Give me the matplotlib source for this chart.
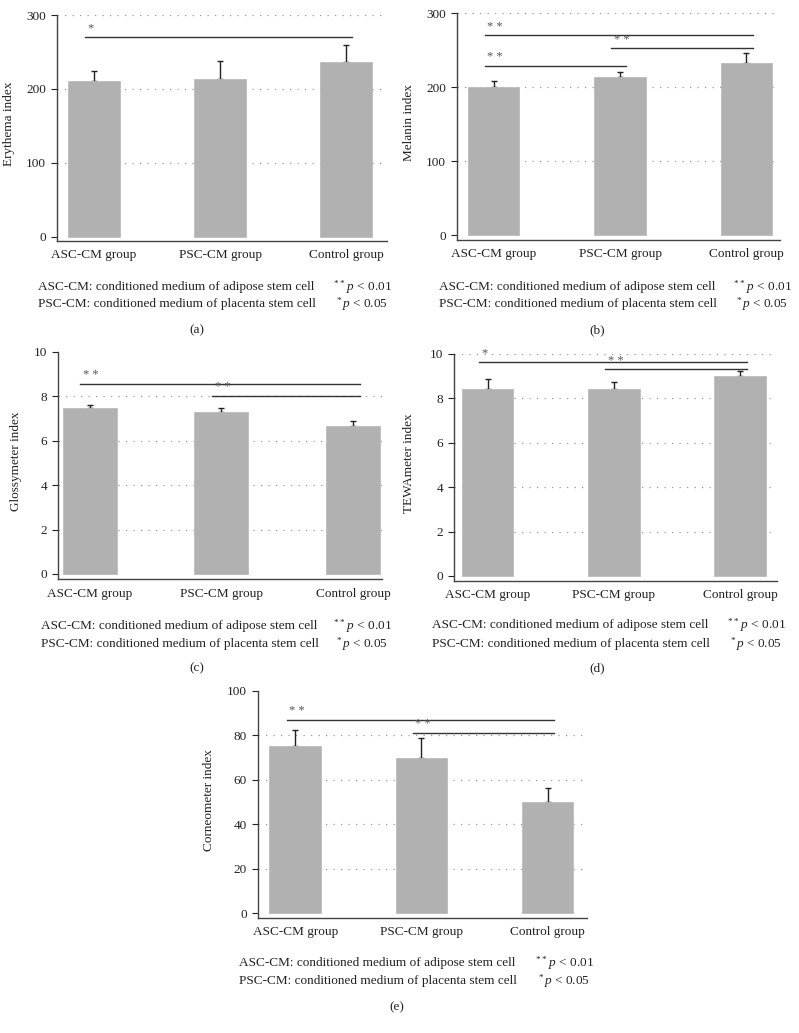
import numpy as np
import matplotlib
matplotlib.use("Agg")
import matplotlib.pyplot as plt

plt.rcParams["font.family"] = ["Liberation Serif", "DejaVu Serif"]
plt.rcParams["mathtext.fontset"] = "custom"
plt.rcParams["mathtext.rm"] = "Liberation Serif"
plt.rcParams["mathtext.it"] = "Liberation Serif:italic"

groups = ["ASC-CM group", "PSC-CM group", "Control group"]

erythema_mean = [211, 213, 237]
erythema_sd = [13, 25, 23]
melanin_mean = [201, 214, 233]
melanin_sd = [7, 6, 13]
gloss_mean = [7.47, 7.28, 6.66]
gloss_sd = [0.13, 0.18, 0.20]
tewa_mean = [8.41, 8.41, 9.00]
tewa_sd = [0.46, 0.33, 0.23]
corneo_mean = [75.0, 69.7, 49.8]
corneo_sd = [7.3, 8.9, 6.3]

# brackets: (from group, to group, height, stars)
erythema_sig = [(0, 2, 270, "*")]
melanin_sig = [(0, 2, 270, "* *"), (1, 2, 252.6, "* *"), (0, 1, 228.7, "* *")]
gloss_sig = [(0, 2, 8.54, "* *"), (1, 2, 8.02, "* *")]
tewa_sig = [(0, 2, 9.65, "*"), (1, 2, 9.31, "* *")]
corneo_sig = [(0, 2, 86.8, "* *"), (1, 2, 81.0, "* *")]

note1 = "ASC-CM: conditioned medium of adipose stem cell"
note2 = "PSC-CM: conditioned medium of placenta stem cell"
p1 = r"$^{**}\,p$ < 0.01"
p2 = r"$^{*}\,p$ < 0.05"

W, H = 799, 1033
fig = plt.figure(figsize=(W / 100, H / 100), dpi=100)


def px_rect(l, r, b, t):
    return [l / W, 1 - b / H, (r - l) / W, (b - t) / H]


panels = [
    # rect(px l, r, bottom, top), xlim, ylim, ticks, grid, label, data, sig, label x
    dict(rect=(57, 387, 241, 15), xlim=(-0.294, 2.325), ylim=(-5.5, 300),
         ticks=[0, 100, 200, 300], grid=[100, 200, 300], ylabel="Erythema index",
         mean=erythema_mean, sd=erythema_sd, sig=erythema_sig, lx=15),
    dict(rect=(457, 780, 240, 13.3), xlim=(-0.289, 2.265), ylim=(-6.5, 300),
         ticks=[0, 100, 200, 300], grid=[100, 200, 300], ylabel="Melanin index",
         mean=melanin_mean, sd=melanin_sd, sig=melanin_sig, lx=415),
    dict(rect=(58, 382, 579.3, 351.7), xlim=(-0.24, 2.22), ylim=(-0.24, 10),
         ticks=[0, 2, 4, 6, 8, 10], grid=[2, 4, 6, 8], ylabel="Glossymeter index",
         mean=gloss_mean, sd=gloss_sd, sig=gloss_sig, lx=21.7),
    dict(rect=(454, 777, 581, 354), xlim=(-0.265, 2.29), ylim=(-0.23, 10),
         ticks=[0, 2, 4, 6, 8, 10], grid=[2, 4, 6, 8, 10], ylabel="TEWAmeter index",
         mean=tewa_mean, sd=tewa_sd, sig=tewa_sig, lx=415),
    dict(rect=(258, 586.7, 918, 690.7), xlim=(-0.296, 2.31), ylim=(-2.2, 100),
         ticks=[0, 20, 40, 60, 80, 100], grid=[20, 40, 60, 80], ylabel="Corneometer index",
         mean=corneo_mean, sd=corneo_sd, sig=corneo_sig, lx=215),
]

x = np.arange(len(groups))
for p in panels:
    l, r, b, t = p["rect"]
    ax = fig.add_axes(px_rect(l, r, b, t))
    ax.set_xlim(*p["xlim"])
    ax.set_ylim(*p["ylim"])
    for g in p["grid"]:
        ax.axhline(g, color="#999999", lw=0.9, ls=(0, (1, 5)), zorder=0)
    ax.bar(x, p["mean"], width=0.41, color="#b1b1b1", edgecolor="#bcbcbc",
           linewidth=0.6, zorder=2)
    ax.errorbar(x, p["mean"], yerr=[np.zeros(3), p["sd"]], fmt="none",
                ecolor="#222222", elinewidth=1.0, capsize=2.5, capthick=1.0, zorder=1)
    y0, y1 = p["ylim"]
    off = (y1 - y0) * 0.012
    for i, j, h, s in p["sig"]:
        ax.plot([i - 0.07, j + 0.05], [h, h], color="#333333", lw=1.0, zorder=3)
        ax.text(i - 0.05, h + off, s, fontsize=9, color="#555555",
                ha="left", va="bottom")
    ax.set_xticks(x)
    ax.set_xticklabels(groups, fontsize=9.5)
    ax.set_yticks(p["ticks"])
    ax.set_yticklabels([str(v) for v in p["ticks"]], fontsize=9.5)
    ax.tick_params(axis="x", length=0, pad=6, colors="#222222")
    ax.tick_params(axis="y", length=4, width=0.8, pad=4, colors="#222222")
    for side in ("top", "right"):
        ax.spines[side].set_visible(False)
    for side in ("left", "bottom"):
        ax.spines[side].set_color("#444444")
        ax.spines[side].set_linewidth(1.0)
    ax.set_ylabel(p["ylabel"], fontsize=9.5, color="#222222")
    ax.yaxis.set_label_coords((p["lx"] - l) / (r - l), 0.52)

# footnotes and panel letters (figure pixel coords)
notes = [(38, 333, 287, 304), (439, 733, 287, 304), (40.7, 333, 626, 644),
         (431.7, 727, 625, 644), (239, 535, 963, 981)]
for nx, px_, ya, yb in notes:
    fig.text(nx / W, 1 - ya / H, note1, fontsize=9.5, va="center", color="#222222")
    fig.text(nx / W, 1 - yb / H, note2, fontsize=9.5, va="center", color="#222222")
    fig.text(px_ / W, 1 - ya / H, p1, fontsize=9.5, va="center", color="#222222")
    fig.text((px_ + 3) / W, 1 - yb / H, p2, fontsize=9.5, va="center", color="#222222")

letters = [("(a)", 197, 330), ("(b)", 597, 330), ("(c)", 197, 668),
           ("(d)", 597, 668), ("(e)", 397, 1007)]
for s, lx, ly in letters:
    fig.text(lx / W, 1 - ly / H, s, fontsize=9.5, ha="center", va="center",
             color="#222222")

fig.savefig("out.png", dpi=100)
